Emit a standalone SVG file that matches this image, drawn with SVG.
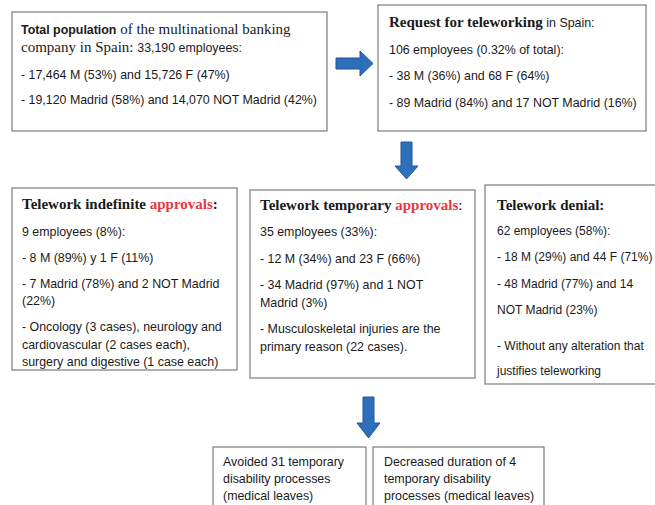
<svg xmlns="http://www.w3.org/2000/svg" width="655" height="505" viewBox="0 0 655 505">
<defs>
<style>
.box{fill:#fff;stroke:#7a7a7a;stroke-width:1.2}
.t{font-family:"Liberation Sans",Arial,sans-serif;font-size:12.4px;fill:#1a1a1a}
.d{font-size:12px}
.s{font-family:"Liberation Serif","Times New Roman",serif;font-size:15px;fill:#1a1a1a}
.h{font-family:"Liberation Serif","Times New Roman",serif;font-size:15px;font-weight:bold;fill:#1a1a1a}
.red{fill:#e8383d}
.arr{fill:#2e6fba;stroke:#23579a;stroke-width:1}
</style>
</defs>
<rect width="655" height="505" fill="#fff"/>
<g id="connectors">
<path class="arr" d="M336,58 H360 V51 L373,63.5 L360,76 V69 H336 Z"/>
<path class="arr" d="M401,142 H412 V166 H418 L406.5,179 L395,166 H401 Z"/>
<path class="arr" d="M363,397 H374 V423 H380 L368.5,438 L357,423 H363 Z"/>
</g>
<g id="total">
<rect class="box" x="12" y="12" width="315" height="119"/>
<text x="21" y="34"><tspan class="t" font-weight="bold" font-size="11.8px">Total population</tspan><tspan class="s"> of the multinational banking</tspan></text>
<text x="21" y="52"><tspan class="s">company in Spain: </tspan><tspan class="t">33,190 employees:</tspan></text>
<text class="t" x="21" y="79">- 17,464 M (53%) and 15,726 F (47%)</text>
<text class="t" x="21" y="104">- 19,120 Madrid (58%) and 14,070 NOT Madrid (42%)</text>
</g>
<g id="request">
<rect class="box" x="378" y="5" width="268" height="126"/>
<text x="389" y="27"><tspan class="h" font-size="14.5px">Request for teleworking</tspan><tspan class="t"> in Spain:</tspan></text>
<text class="t" x="389" y="54">106 employees (0.32% of total):</text>
<text class="t" x="389" y="80">- 38 M (36%) and 68 F (64%)</text>
<text class="t" x="389" y="107">- 89 Madrid (84%) and 17 NOT Madrid (16%)</text>
</g>
<g id="indefinite">
<rect class="box" x="12" y="188" width="225" height="182"/>
<text class="h" x="22" y="209">Telework indefinite <tspan class="red">approvals</tspan>:</text>
<text class="t" x="22" y="236">9 employees (8%):</text>
<text class="t" x="22" y="262">- 8 M (89%) y 1 F (11%)</text>
<text class="t" x="22" y="288">- 7 Madrid (78%) and 2 NOT Madrid</text>
<text class="t" x="22" y="305">(22%)</text>
<text class="t" x="22" y="331">- Oncology (3 cases), neurology and</text>
<text class="t" x="22" y="349">cardiovascular (2 cases each),</text>
<text class="t" x="22" y="366">surgery and digestive (1 case each)</text>
</g>
<g id="temporary">
<rect class="box" x="250" y="190" width="225" height="188"/>
<text class="h" x="260" y="210">Telework temporary <tspan class="red">approvals</tspan><tspan font-weight="normal">:</tspan></text>
<text class="t" x="260" y="236">35 employees (33%):</text>
<text class="t" x="260" y="263">- 12 M (34%) and 23 F (66%)</text>
<text class="t" x="260" y="289">- 34 Madrid (97%) and 1 NOT</text>
<text class="t" x="260" y="307">Madrid (3%)</text>
<text class="t" x="260" y="333">- Musculoskeletal injuries are the</text>
<text class="t" x="260" y="351">primary reason (22 cases).</text>
</g>
<g id="denial">
<rect class="box" x="485" y="185" width="180" height="199"/>
<text class="h" x="497" y="210">Telework denial:</text>
<text class="t d" x="497" y="235">62 employees (58%):</text>
<text class="t d" x="497" y="261">- 18 M (29%) and 44 F (71%)</text>
<text class="t d" x="497" y="288">- 48 Madrid (77%) and 14</text>
<text class="t d" x="497" y="314">NOT Madrid (23%)</text>
<text class="t d" x="497" y="350">- Without any alteration that</text>
<text class="t d" x="497" y="375">justifies teleworking</text>
</g>
<g id="avoided">
<rect class="box" x="213" y="447" width="153" height="70"/>
<text class="t" x="223" y="466">Avoided 31 temporary</text>
<text class="t" x="223" y="483">disability processes</text>
<text class="t" x="223" y="500">(medical leaves)</text>
</g>
<g id="decreased">
<rect class="box" x="373" y="447" width="171" height="70"/>
<text class="t" x="384" y="466">Decreased duration of 4</text>
<text class="t" x="384" y="483">temporary disability</text>
<text class="t" x="384" y="500">processes (medical leaves)</text>
</g>
</svg>
